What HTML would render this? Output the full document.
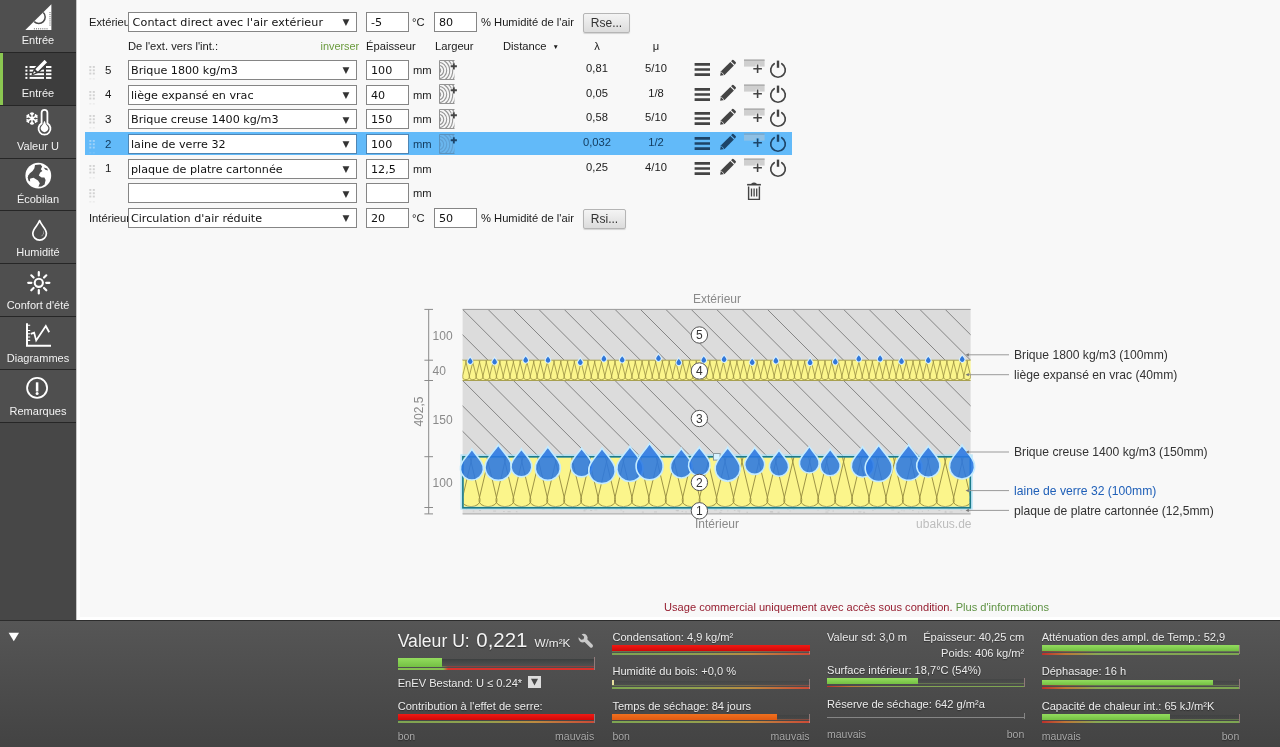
<!DOCTYPE html>
<html lang="fr">
<head>
<meta charset="utf-8">
<title>Ubakus</title>
<style>
html,body{margin:0;padding:0;}
body{width:1280px;height:747px;overflow:hidden;position:relative;background:#f8f8f8;font-family:"Liberation Sans",Arial,sans-serif;font-size:12px;color:#222;}
.abs{position:absolute;}
#side{position:absolute;left:0;top:0;width:76px;height:620px;background:#474747;}
.nav{position:absolute;left:0;width:76px;height:52px;background:#4f4f4f;border-bottom:1px solid #262626;color:#f2f2f2;font-size:11px;text-align:center;}
.nav span{position:absolute;left:0;width:76px;top:32.5px;line-height:14px;}
.nav.act{background:#3d3d3d;}
.nav.act:before{content:"";position:absolute;left:0;top:0;width:3px;height:100%;background:#8bc751;}
.nav svg{position:absolute;}
#bottom{position:absolute;left:0;top:620px;width:1280px;height:127px;background:linear-gradient(#565656,#434343);color:#f0f0f0;}
.t{position:absolute;white-space:nowrap;line-height:14px;font-size:11.2px;color:#1a1a1a;}
.sel{position:absolute;box-sizing:border-box;height:20px;background:#fff;border:1px solid #858585;font-family:"DejaVu Sans",sans-serif;font-size:11.15px;line-height:20px;padding-left:2px;white-space:nowrap;overflow:hidden;color:#111;}
.sel i{position:absolute;right:6.5px;top:-0.7px;font-style:normal;font-size:9px;color:#333;}
.inp{position:absolute;box-sizing:border-box;height:20px;background:#fff;border:1px solid #858585;font-family:"DejaVu Sans",sans-serif;font-size:11.15px;line-height:20px;padding-left:4px;color:#111;}
.btn{position:absolute;box-sizing:border-box;height:20px;border:1px solid #b5b5b5;border-radius:2px;background:linear-gradient(#f4f4f4,#dcdcdc);font-size:12px;line-height:18px;text-align:center;color:#333;box-shadow:0 1px 1px rgba(0,0,0,.15);}
.bt{position:absolute;white-space:nowrap;text-shadow:0 1px 1px rgba(0,0,0,.45);}

</style>
</head>
<body>
<svg width="0" height="0" style="position:absolute">
<defs>
<clipPath id="wclip"><rect x="0.5" y="0.5" width="15" height="19"/></clipPath>
<g id="wood">
<rect x="0.5" y="0.5" width="15" height="19" style="fill:var(--wf,#f6f6f6)"/>
<g clip-path="url(#wclip)" fill="none" style="stroke:var(--wa,#959595)" stroke-width="1.1"><circle cx="-0.6" cy="10.5" r="2.3"/><circle cx="-0.6" cy="10.5" r="5.3"/><circle cx="-0.6" cy="10.5" r="8.3"/><circle cx="-0.6" cy="10.5" r="11.3"/><circle cx="-0.6" cy="10.5" r="14.3"/><circle cx="-0.6" cy="10.5" r="17.3"/><circle cx="-0.6" cy="10.5" r="20.3"/></g>
<path d="M15.5 0.5H0.5V19.5H15.5" fill="none" style="stroke:var(--wb,#939393)" stroke-width="1"/>
<path d="M14.8 3v6.6M11.5 6.3h6.6" stroke="currentColor" stroke-width="3.6" fill="none"/>
<path d="M14.8 3.2v6.2M11.7 6.3h6.2" style="stroke:var(--ic,#444)" stroke-width="1.9" fill="none"/>
</g>
<g id="acts">
<!-- origin: x=692, y=rowtop-2 -->
<path d="M2.6 6.4h15.4M2.6 11.5h15.4M2.6 16.6h15.4" style="stroke:var(--ic,#444)" stroke-width="2.6" fill="none"/>
<!-- pencil -->
<g style="fill:var(--ic,#444)">
<path d="M28.1 17.8 L29 13.3 L38.3 4 L41.9 7.6 L32.6 16.9 Z"/>
<path d="M39.1 3.2 L40.2 2.1 Q41 1.4 41.8 2.2 L43.6 4 Q44.4 4.8 43.7 5.6 L42.7 6.8 Z"/>
</g>
<path d="M29.2 14 L32 16.8" stroke="currentColor" stroke-width="0.8" fill="none"/>
<!-- add row -->
<rect x="52" y="1.6" width="20.6" height="7" style="fill:var(--ar,#cfcfcf)"/>
<rect x="52" y="1.6" width="20.6" height="1" style="fill:var(--at,#9a9a9a)"/>
<path d="M65.6 6.2v9M61.1 10.7h9" stroke="currentColor" stroke-width="3.6" fill="none"/>
<path d="M65.6 6.4v8.6M61.3 10.7h8.6" style="stroke:var(--ic,#444)" stroke-width="1.6" fill="none"/>
<!-- power -->
<path d="M82.2 5.7 A7.3 7.3 0 1 0 89.8 5.7" style="stroke:var(--ic,#444)" stroke-width="1.7" fill="none" stroke-linecap="round"/>
<path d="M86 2.6v7.2" style="stroke:var(--ic,#444)" stroke-width="2.4" fill="none"/>
</g>
<g id="trash" fill="none" stroke="#444">
<path d="M1.1 2.7h13.8" stroke-width="1.6"/>
<path d="M5.6 2 Q8 0.6 10.4 2" stroke-width="1.4"/>
<path d="M2.6 4.6V17.4H13.4V4.6" stroke-width="1.4"/>
<path d="M5.5 6.6v8M8.1 6.6v8M10.7 6.6v8" stroke-width="1.3"/>
</g>
</defs>
</svg>

<div id="main">
<div class="abs" style="left:85px;top:132.3px;width:707px;height:22.7px;background:#62baf9"></div>
<div class="t " style="left:89px;top:15.00px;width:39px;overflow:hidden">Extérieur</div>
<div class="sel" style="left:128px;top:12.00px;width:229px"><span style="padding-left:1.6px;letter-spacing:0.1px">Contact direct avec l'air extérieur</span><i>▼</i></div>
<div class="inp" style="left:366px;top:12.00px;width:43px">-5</div>
<div class="t " style="left:412px;top:15.00px;">°C</div>
<div class="inp" style="left:434px;top:12.00px;width:43px">80</div>
<div class="t " style="left:481px;top:15.00px;">% Humidité de l'air</div>
<div class="btn" style="left:583px;top:12.5px;width:47px">Rse...</div>
<div class="t " style="left:128px;top:39.00px;">De l'ext. vers l'int.:</div>
<div class="t " style="left:320.5px;top:39.00px;color:#6a9a3c;font-size:10.9px">inverser</div>
<div class="t " style="left:366px;top:39.00px;">Épaisseur</div>
<div class="t " style="left:435px;top:39.00px;">Largeur</div>
<div class="t " style="left:503px;top:39.00px;">Distance</div>
<div class="t " style="left:552.5px;top:39.50px;font-size:6.5px">▼</div>
<div class="t " style="left:587px;top:39.00px;width:20px;text-align:center">λ</div>
<div class="t " style="left:646px;top:39.00px;width:20px;text-align:center">μ</div>
<svg class="abs" style="left:89px;top:65.90px" width="7" height="15"><g fill="#d2d2d2"><rect x="0.3" y="0" width="2" height="1.9"/><rect x="3.8" y="0" width="2" height="1.9"/><rect x="0.3" y="3.3" width="2" height="1.9"/><rect x="3.8" y="3.3" width="2" height="1.9"/><rect x="0.3" y="6.6" width="2" height="1.9"/><rect x="3.8" y="6.6" width="2" height="1.9"/></g><g fill="#d2d2d2" opacity="0.3"><rect x="0.3" y="12" width="2" height="1.6"/><rect x="3.8" y="12" width="2" height="1.6"/></g></svg>
<div class="t " style="left:105px;top:62.60px;font-size:11.5px">5</div>
<div class="sel" style="left:128px;top:60.00px;width:229px">Brique 1800 kg/m3<i>▼</i></div>
<div class="inp" style="left:366px;top:60.00px;width:43px">100</div>
<div class="t " style="left:413px;top:63.00px;">mm</div>
<svg class="abs" style="left:439px;top:59.80px;color:#f8f8f8" width="19" height="21"><use href="#wood"/></svg>
<div class="t " style="left:567px;top:61.00px;width:60px;text-align:center">0,81</div>
<div class="t " style="left:626px;top:61.00px;width:60px;text-align:center">5/10</div>
<svg class="abs" style="left:692px;top:58.00px;color:#f8f8f8" width="100" height="24"><use href="#acts"/></svg>
<svg class="abs" style="left:89px;top:90.57px" width="7" height="15"><g fill="#d2d2d2"><rect x="0.3" y="0" width="2" height="1.9"/><rect x="3.8" y="0" width="2" height="1.9"/><rect x="0.3" y="3.3" width="2" height="1.9"/><rect x="3.8" y="3.3" width="2" height="1.9"/><rect x="0.3" y="6.6" width="2" height="1.9"/><rect x="3.8" y="6.6" width="2" height="1.9"/></g><g fill="#d2d2d2" opacity="0.3"><rect x="0.3" y="12" width="2" height="1.6"/><rect x="3.8" y="12" width="2" height="1.6"/></g></svg>
<div class="t " style="left:105px;top:87.27px;font-size:11.5px">4</div>
<div class="sel" style="left:128px;top:84.67px;width:229px">liège expansé en vrac<i>▼</i></div>
<div class="inp" style="left:366px;top:84.67px;width:43px">40</div>
<div class="t " style="left:413px;top:87.67px;">mm</div>
<svg class="abs" style="left:439px;top:84.47px;color:#f8f8f8" width="19" height="21"><use href="#wood"/></svg>
<div class="t " style="left:567px;top:85.67px;width:60px;text-align:center">0,05</div>
<div class="t " style="left:626px;top:85.67px;width:60px;text-align:center">1/8</div>
<svg class="abs" style="left:692px;top:82.67px;color:#f8f8f8" width="100" height="24"><use href="#acts"/></svg>
<svg class="abs" style="left:89px;top:115.23px" width="7" height="15"><g fill="#d2d2d2"><rect x="0.3" y="0" width="2" height="1.9"/><rect x="3.8" y="0" width="2" height="1.9"/><rect x="0.3" y="3.3" width="2" height="1.9"/><rect x="3.8" y="3.3" width="2" height="1.9"/><rect x="0.3" y="6.6" width="2" height="1.9"/><rect x="3.8" y="6.6" width="2" height="1.9"/></g><g fill="#d2d2d2" opacity="0.3"><rect x="0.3" y="12" width="2" height="1.6"/><rect x="3.8" y="12" width="2" height="1.6"/></g></svg>
<div class="t " style="left:105px;top:111.93px;font-size:11.5px">3</div>
<div class="sel" style="left:128px;top:109.33px;width:229px">Brique creuse 1400 kg/m3<i>▼</i></div>
<div class="inp" style="left:366px;top:109.33px;width:43px">150</div>
<div class="t " style="left:413px;top:112.33px;">mm</div>
<svg class="abs" style="left:439px;top:109.13px;color:#f8f8f8" width="19" height="21"><use href="#wood"/></svg>
<div class="t " style="left:567px;top:110.33px;width:60px;text-align:center">0,58</div>
<div class="t " style="left:626px;top:110.33px;width:60px;text-align:center">5/10</div>
<svg class="abs" style="left:692px;top:107.33px;color:#f8f8f8" width="100" height="24"><use href="#acts"/></svg>
<svg class="abs" style="left:89px;top:139.90px" width="7" height="15"><g fill="#9fd2f8"><rect x="0.3" y="0" width="2" height="1.9"/><rect x="3.8" y="0" width="2" height="1.9"/><rect x="0.3" y="3.3" width="2" height="1.9"/><rect x="3.8" y="3.3" width="2" height="1.9"/><rect x="0.3" y="6.6" width="2" height="1.9"/><rect x="3.8" y="6.6" width="2" height="1.9"/></g><g fill="#9fd2f8" opacity="0.3"><rect x="0.3" y="12" width="2" height="1.6"/><rect x="3.8" y="12" width="2" height="1.6"/></g></svg>
<div class="t " style="left:105px;top:136.60px;font-size:11.5px;color:#123a5c">2</div>
<div class="sel" style="left:128px;top:134.00px;width:229px;border-color:#4f86b4">laine de verre 32<i>▼</i></div>
<div class="inp" style="left:366px;top:134.00px;width:43px;border-color:#4f86b4">100</div>
<div class="t " style="left:413px;top:137.00px;color:#123a5c">mm</div>
<svg class="abs" style="left:439px;top:133.80px;color:#62baf9;--wf:#6ab6ee;--wb:#5b94c0;--wa:#5f9fd2;--ic:#1d4468" width="19" height="21"><use href="#wood"/></svg>
<div class="t " style="left:567px;top:135.00px;width:60px;text-align:center;color:#123a5c">0,032</div>
<div class="t " style="left:626px;top:135.00px;width:60px;text-align:center;color:#123a5c">1/2</div>
<svg class="abs" style="left:692px;top:132.00px;color:#62baf9;--ic:#1d4468;--ar:#8fc0e4;--at:#6f9ec4" width="100" height="24"><use href="#acts"/></svg>
<svg class="abs" style="left:89px;top:164.57px" width="7" height="15"><g fill="#d2d2d2"><rect x="0.3" y="0" width="2" height="1.9"/><rect x="3.8" y="0" width="2" height="1.9"/><rect x="0.3" y="3.3" width="2" height="1.9"/><rect x="3.8" y="3.3" width="2" height="1.9"/><rect x="0.3" y="6.6" width="2" height="1.9"/><rect x="3.8" y="6.6" width="2" height="1.9"/></g><g fill="#d2d2d2" opacity="0.3"><rect x="0.3" y="12" width="2" height="1.6"/><rect x="3.8" y="12" width="2" height="1.6"/></g></svg>
<div class="t " style="left:105px;top:161.27px;font-size:11.5px">1</div>
<div class="sel" style="left:128px;top:158.67px;width:229px">plaque de platre cartonnée<i>▼</i></div>
<div class="inp" style="left:366px;top:158.67px;width:43px">12,5</div>
<div class="t " style="left:413px;top:161.67px;">mm</div>
<div class="t " style="left:567px;top:159.67px;width:60px;text-align:center">0,25</div>
<div class="t " style="left:626px;top:159.67px;width:60px;text-align:center">4/10</div>
<svg class="abs" style="left:692px;top:156.67px;color:#f8f8f8" width="100" height="24"><use href="#acts"/></svg>
<svg class="abs" style="left:89px;top:189.24px" width="7" height="15"><g fill="#d2d2d2"><rect x="0.3" y="0" width="2" height="1.9"/><rect x="3.8" y="0" width="2" height="1.9"/><rect x="0.3" y="3.3" width="2" height="1.9"/><rect x="3.8" y="3.3" width="2" height="1.9"/><rect x="0.3" y="6.6" width="2" height="1.9"/><rect x="3.8" y="6.6" width="2" height="1.9"/></g><g fill="#d2d2d2" opacity="0.3"><rect x="0.3" y="12" width="2" height="1.6"/><rect x="3.8" y="12" width="2" height="1.6"/></g></svg>
<div class="sel" style="left:128px;top:183.34px;width:229px"><i>▼</i></div>
<div class="inp" style="left:366px;top:183.34px;width:43px"></div>
<div class="t " style="left:413px;top:186.34px;">mm</div>
<svg class="abs" style="left:746px;top:182.34px" width="16" height="19"><use href="#trash"/></svg>
<div class="t " style="left:89px;top:211.00px;width:39px;overflow:hidden">Intérieur</div>
<div class="sel" style="left:128px;top:208.00px;width:229px">Circulation d'air réduite<i>▼</i></div>
<div class="inp" style="left:366px;top:208.00px;width:43px">20</div>
<div class="t " style="left:412px;top:211.00px;">°C</div>
<div class="inp" style="left:434px;top:208.00px;width:43px">50</div>
<div class="t " style="left:481px;top:211.00px;">% Humidité de l'air</div>
<div class="btn" style="left:583px;top:208.50px;width:43px">Rsi...</div>
<div class="t " style="left:664px;top:600.40px;color:#961e30;font-size:11.1px">Usage commercial uniquement avec accès sous condition. <span style="color:#5e9243">Plus d'informations</span></div>
<svg class="abs" style="left:400px;top:285px" width="860" height="255" viewBox="0 0 860 255" font-family="Liberation Sans,Arial,sans-serif" font-size="12">
<defs>
<clipPath id="cb0"><rect x="62.6" y="24.4" width="508.0" height="50.8"/></clipPath>
<clipPath id="cb2"><rect x="62.6" y="95.5" width="508.0" height="76.2"/></clipPath>
<clipPath id="cb1"><rect x="62.6" y="75.2" width="508.0" height="20.3"/></clipPath>
<clipPath id="cb3"><rect x="62.6" y="171.7" width="508.0" height="50.8"/></clipPath>
<path id="dr" d="M0 -1.68 C0.08 -1.52 0.56 -1.0 0.82 -0.57 A1 1 0 1 1 -0.82 -0.57 C-0.56 -1.0 -0.08 -1.52 0 -1.68Z"/>
</defs>
<rect x="62.6" y="24.4" width="508.0" height="50.8" fill="#dcdcdc"/>
<path d="M-13.6 24.4l50.8 50.8M11.8 24.4l50.8 50.8M37.2 24.4l50.8 50.8M62.6 24.4l50.8 50.8M88.0 24.4l50.8 50.8M113.4 24.4l50.8 50.8M138.8 24.4l50.8 50.8M164.2 24.4l50.8 50.8M189.6 24.4l50.8 50.8M215.0 24.4l50.8 50.8M240.4 24.4l50.8 50.8M265.8 24.4l50.8 50.8M291.2 24.4l50.8 50.8M316.6 24.4l50.8 50.8M342.0 24.4l50.8 50.8M367.4 24.4l50.8 50.8M392.8 24.4l50.8 50.8M418.2 24.4l50.8 50.8M443.6 24.4l50.8 50.8M469.0 24.4l50.8 50.8M494.4 24.4l50.8 50.8M519.8 24.4l50.8 50.8M545.2 24.4l50.8 50.8" stroke="#808080" stroke-width="0.95" fill="none" clip-path="url(#cb0)"/>
<rect x="62.6" y="75.2" width="508.0" height="20.3" fill="#fbf58b"/>
<path d="M58.71 75.20L62.79 91.69A3.62 2.51 0 1 1 55.64 91.69L59.72 75.20M65.48 75.20L69.56 91.69A3.62 2.51 0 1 1 62.41 91.69L66.49 75.20M72.26 75.20L76.33 91.69A3.62 2.51 0 1 1 69.19 91.69L73.26 75.20M79.03 75.20L83.11 91.69A3.62 2.51 0 1 1 75.96 91.69L80.04 75.20M85.80 75.20L89.88 91.69A3.62 2.51 0 1 1 82.73 91.69L86.81 75.20M92.58 75.20L96.65 91.69A3.62 2.51 0 1 1 89.51 91.69L93.58 75.20M99.35 75.20L103.43 91.69A3.62 2.51 0 1 1 96.28 91.69L100.36 75.20M106.12 75.20L110.20 91.69A3.62 2.51 0 1 1 103.05 91.69L107.13 75.20M112.90 75.20L116.97 91.69A3.62 2.51 0 1 1 109.83 91.69L113.90 75.20M119.67 75.20L123.75 91.69A3.62 2.51 0 1 1 116.60 91.69L120.68 75.20M126.44 75.20L130.52 91.69A3.62 2.51 0 1 1 123.37 91.69L127.45 75.20M133.22 75.20L137.29 91.69A3.62 2.51 0 1 1 130.15 91.69L134.22 75.20M139.99 75.20L144.07 91.69A3.62 2.51 0 1 1 136.92 91.69L141.00 75.20M146.76 75.20L150.84 91.69A3.62 2.51 0 1 1 143.69 91.69L147.77 75.20M153.54 75.20L157.61 91.69A3.62 2.51 0 1 1 150.47 91.69L154.54 75.20M160.31 75.20L164.39 91.69A3.62 2.51 0 1 1 157.24 91.69L161.32 75.20M167.08 75.20L171.16 91.69A3.62 2.51 0 1 1 164.01 91.69L168.09 75.20M173.86 75.20L177.93 91.69A3.62 2.51 0 1 1 170.79 91.69L174.86 75.20M180.63 75.20L184.71 91.69A3.62 2.51 0 1 1 177.56 91.69L181.64 75.20M187.40 75.20L191.48 91.69A3.62 2.51 0 1 1 184.33 91.69L188.41 75.20M194.18 75.20L198.25 91.69A3.62 2.51 0 1 1 191.11 91.69L195.18 75.20M200.95 75.20L205.03 91.69A3.62 2.51 0 1 1 197.88 91.69L201.96 75.20M207.72 75.20L211.80 91.69A3.62 2.51 0 1 1 204.65 91.69L208.73 75.20M214.50 75.20L218.57 91.69A3.62 2.51 0 1 1 211.43 91.69L215.50 75.20M221.27 75.20L225.35 91.69A3.62 2.51 0 1 1 218.20 91.69L222.28 75.20M228.04 75.20L232.12 91.69A3.62 2.51 0 1 1 224.97 91.69L229.05 75.20M234.82 75.20L238.89 91.69A3.62 2.51 0 1 1 231.75 91.69L235.82 75.20M241.59 75.20L245.67 91.69A3.62 2.51 0 1 1 238.52 91.69L242.60 75.20M248.36 75.20L252.44 91.69A3.62 2.51 0 1 1 245.29 91.69L249.37 75.20M255.14 75.20L259.21 91.69A3.62 2.51 0 1 1 252.07 91.69L256.14 75.20M261.91 75.20L265.99 91.69A3.62 2.51 0 1 1 258.84 91.69L262.92 75.20M268.68 75.20L272.76 91.69A3.62 2.51 0 1 1 265.61 91.69L269.69 75.20M275.46 75.20L279.53 91.69A3.62 2.51 0 1 1 272.39 91.69L276.46 75.20M282.23 75.20L286.31 91.69A3.62 2.51 0 1 1 279.16 91.69L283.24 75.20M289.00 75.20L293.08 91.69A3.62 2.51 0 1 1 285.93 91.69L290.01 75.20M295.78 75.20L299.85 91.69A3.62 2.51 0 1 1 292.71 91.69L296.78 75.20M302.55 75.20L306.63 91.69A3.62 2.51 0 1 1 299.48 91.69L303.56 75.20M309.32 75.20L313.40 91.69A3.62 2.51 0 1 1 306.25 91.69L310.33 75.20M316.10 75.20L320.17 91.69A3.62 2.51 0 1 1 313.03 91.69L317.10 75.20M322.87 75.20L326.95 91.69A3.62 2.51 0 1 1 319.80 91.69L323.88 75.20M329.64 75.20L333.72 91.69A3.62 2.51 0 1 1 326.57 91.69L330.65 75.20M336.42 75.20L340.49 91.69A3.62 2.51 0 1 1 333.35 91.69L337.42 75.20M343.19 75.20L347.27 91.69A3.62 2.51 0 1 1 340.12 91.69L344.20 75.20M349.96 75.20L354.04 91.69A3.62 2.51 0 1 1 346.89 91.69L350.97 75.20M356.74 75.20L360.81 91.69A3.62 2.51 0 1 1 353.67 91.69L357.74 75.20M363.51 75.20L367.59 91.69A3.62 2.51 0 1 1 360.44 91.69L364.52 75.20M370.28 75.20L374.36 91.69A3.62 2.51 0 1 1 367.21 91.69L371.29 75.20M377.06 75.20L381.13 91.69A3.62 2.51 0 1 1 373.99 91.69L378.06 75.20M383.83 75.20L387.91 91.69A3.62 2.51 0 1 1 380.76 91.69L384.84 75.20M390.60 75.20L394.68 91.69A3.62 2.51 0 1 1 387.53 91.69L391.61 75.20M397.38 75.20L401.45 91.69A3.62 2.51 0 1 1 394.31 91.69L398.38 75.20M404.15 75.20L408.23 91.69A3.62 2.51 0 1 1 401.08 91.69L405.16 75.20M410.92 75.20L415.00 91.69A3.62 2.51 0 1 1 407.85 91.69L411.93 75.20M417.70 75.20L421.77 91.69A3.62 2.51 0 1 1 414.63 91.69L418.70 75.20M424.47 75.20L428.55 91.69A3.62 2.51 0 1 1 421.40 91.69L425.48 75.20M431.24 75.20L435.32 91.69A3.62 2.51 0 1 1 428.17 91.69L432.25 75.20M438.02 75.20L442.09 91.69A3.62 2.51 0 1 1 434.95 91.69L439.02 75.20M444.79 75.20L448.87 91.69A3.62 2.51 0 1 1 441.72 91.69L445.80 75.20M451.56 75.20L455.64 91.69A3.62 2.51 0 1 1 448.49 91.69L452.57 75.20M458.34 75.20L462.41 91.69A3.62 2.51 0 1 1 455.27 91.69L459.34 75.20M465.11 75.20L469.19 91.69A3.62 2.51 0 1 1 462.04 91.69L466.12 75.20M471.88 75.20L475.96 91.69A3.62 2.51 0 1 1 468.81 91.69L472.89 75.20M478.66 75.20L482.73 91.69A3.62 2.51 0 1 1 475.59 91.69L479.66 75.20M485.43 75.20L489.51 91.69A3.62 2.51 0 1 1 482.36 91.69L486.44 75.20M492.20 75.20L496.28 91.69A3.62 2.51 0 1 1 489.13 91.69L493.21 75.20M498.98 75.20L503.05 91.69A3.62 2.51 0 1 1 495.91 91.69L499.98 75.20M505.75 75.20L509.83 91.69A3.62 2.51 0 1 1 502.68 91.69L506.76 75.20M512.52 75.20L516.60 91.69A3.62 2.51 0 1 1 509.45 91.69L513.53 75.20M519.30 75.20L523.37 91.69A3.62 2.51 0 1 1 516.23 91.69L520.30 75.20M526.07 75.20L530.15 91.69A3.62 2.51 0 1 1 523.00 91.69L527.08 75.20M532.84 75.20L536.92 91.69A3.62 2.51 0 1 1 529.77 91.69L533.85 75.20M539.62 75.20L543.69 91.69A3.62 2.51 0 1 1 536.55 91.69L540.62 75.20M546.39 75.20L550.47 91.69A3.62 2.51 0 1 1 543.32 91.69L547.40 75.20M553.16 75.20L557.24 91.69A3.62 2.51 0 1 1 550.09 91.69L554.17 75.20M559.94 75.20L564.01 91.69A3.62 2.51 0 1 1 556.87 91.69L560.94 75.20M566.71 75.20L570.79 91.69A3.62 2.51 0 1 1 563.64 91.69L567.72 75.20M573.48 75.20L577.56 91.69A3.62 2.51 0 1 1 570.41 91.69L574.49 75.20M580.26 75.20L584.33 91.69A3.62 2.51 0 1 1 577.19 91.69L581.26 75.20" stroke="#988e42" stroke-width="0.8" fill="none" clip-path="url(#cb1)"/>
<rect x="62.6" y="95.5" width="508.0" height="76.2" fill="#dcdcdc"/>
<path d="M-13.6 95.5l76.2 76.2M11.8 95.5l76.2 76.2M37.2 95.5l76.2 76.2M62.6 95.5l76.2 76.2M88.0 95.5l76.2 76.2M113.4 95.5l76.2 76.2M138.8 95.5l76.2 76.2M164.2 95.5l76.2 76.2M189.6 95.5l76.2 76.2M215.0 95.5l76.2 76.2M240.4 95.5l76.2 76.2M265.8 95.5l76.2 76.2M291.2 95.5l76.2 76.2M316.6 95.5l76.2 76.2M342.0 95.5l76.2 76.2M367.4 95.5l76.2 76.2M392.8 95.5l76.2 76.2M418.2 95.5l76.2 76.2M443.6 95.5l76.2 76.2M469.0 95.5l76.2 76.2M494.4 95.5l76.2 76.2M519.8 95.5l76.2 76.2M545.2 95.5l76.2 76.2" stroke="#808080" stroke-width="0.95" fill="none" clip-path="url(#cb2)"/>
<rect x="62.6" y="171.7" width="508.0" height="50.8" fill="#fbf58b"/>
<path d="M52.92 171.72L63.07 214.34A9.06 6.27 0 1 1 45.19 214.34L55.34 171.72M69.86 171.72L80.01 214.34A9.06 6.27 0 1 1 62.13 214.34L72.28 171.72M86.79 171.72L96.94 214.34A9.06 6.27 0 1 1 79.06 214.34L89.21 171.72M103.72 171.72L113.87 214.34A9.06 6.27 0 1 1 95.99 214.34L106.14 171.72M120.66 171.72L130.81 214.34A9.06 6.27 0 1 1 112.93 214.34L123.08 171.72M137.59 171.72L147.74 214.34A9.06 6.27 0 1 1 129.86 214.34L140.01 171.72M154.52 171.72L164.67 214.34A9.06 6.27 0 1 1 146.79 214.34L156.94 171.72M171.46 171.72L181.61 214.34A9.06 6.27 0 1 1 163.73 214.34L173.88 171.72M188.39 171.72L198.54 214.34A9.06 6.27 0 1 1 180.66 214.34L190.81 171.72M205.32 171.72L215.47 214.34A9.06 6.27 0 1 1 197.59 214.34L207.74 171.72M222.26 171.72L232.41 214.34A9.06 6.27 0 1 1 214.53 214.34L224.68 171.72M239.19 171.72L249.34 214.34A9.06 6.27 0 1 1 231.46 214.34L241.61 171.72M256.12 171.72L266.27 214.34A9.06 6.27 0 1 1 248.39 214.34L258.54 171.72M273.06 171.72L283.21 214.34A9.06 6.27 0 1 1 265.33 214.34L275.48 171.72M289.99 171.72L300.14 214.34A9.06 6.27 0 1 1 282.26 214.34L292.41 171.72M306.92 171.72L317.07 214.34A9.06 6.27 0 1 1 299.19 214.34L309.34 171.72M323.86 171.72L334.01 214.34A9.06 6.27 0 1 1 316.13 214.34L326.28 171.72M340.79 171.72L350.94 214.34A9.06 6.27 0 1 1 333.06 214.34L343.21 171.72M357.72 171.72L367.87 214.34A9.06 6.27 0 1 1 349.99 214.34L360.14 171.72M374.66 171.72L384.81 214.34A9.06 6.27 0 1 1 366.93 214.34L377.08 171.72M391.59 171.72L401.74 214.34A9.06 6.27 0 1 1 383.86 214.34L394.01 171.72M408.52 171.72L418.67 214.34A9.06 6.27 0 1 1 400.79 214.34L410.94 171.72M425.46 171.72L435.61 214.34A9.06 6.27 0 1 1 417.73 214.34L427.88 171.72M442.39 171.72L452.54 214.34A9.06 6.27 0 1 1 434.66 214.34L444.81 171.72M459.32 171.72L469.47 214.34A9.06 6.27 0 1 1 451.59 214.34L461.74 171.72M476.26 171.72L486.41 214.34A9.06 6.27 0 1 1 468.53 214.34L478.68 171.72M493.19 171.72L503.34 214.34A9.06 6.27 0 1 1 485.46 214.34L495.61 171.72M510.12 171.72L520.27 214.34A9.06 6.27 0 1 1 502.39 214.34L512.54 171.72M527.06 171.72L537.21 214.34A9.06 6.27 0 1 1 519.33 214.34L529.48 171.72M543.99 171.72L554.14 214.34A9.06 6.27 0 1 1 536.26 214.34L546.41 171.72M560.92 171.72L571.07 214.34A9.06 6.27 0 1 1 553.19 214.34L563.34 171.72M577.86 171.72L588.01 214.34A9.06 6.27 0 1 1 570.13 214.34L580.28 171.72" stroke="#988e42" stroke-width="0.95" fill="none" clip-path="url(#cb3)"/>
<path d="M62.6 75.2H570.6M62.6 95.5H570.6" stroke="#a8a050" stroke-width="1" fill="none"/>
<path d="M62.6 24.4H570.6" stroke="#9a9a9a" stroke-width="1" fill="none"/>
<rect x="62.6" y="222.5" width="508.0" height="6.4" fill="#dedede"/>
<path d="M183.5 225.8h2M527.9 225.6h1M370.2 227.1h3M194.4 224.8h3M337.4 225.9h3M387.2 224.5h1.5M503.6 225.8h1M403.7 224.2h1M215.6 224.1h2M302.8 226.4h3M425.4 227.1h3M432.5 226.0h1.5M509.1 224.3h1.5M314.0 224.9h3M458.3 226.9h3M320.3 225.3h2M333.9 225.4h1.5M521.9 226.3h1M497.7 227.3h1.5M417.5 225.1h1M425.2 224.7h2M207.4 224.2h3M107.6 226.7h3M518.3 224.1h3M453.1 226.9h1M369.9 226.6h3M427.6 225.1h2M319.4 227.4h2M66.3 224.4h1M544.6 227.3h2M372.7 224.5h1M560.4 225.2h2M549.6 227.0h3M254.0 226.9h3M389.7 226.0h1M377.6 227.2h2M281.6 226.4h1.5M538.3 225.5h2M327.3 225.9h1M463.1 227.3h2M72.8 226.1h1.5M93.1 226.1h3M241.9 227.1h2M437.5 224.1h1M547.7 224.1h2M190.2 225.5h2M152.7 224.6h2M491.3 224.9h3M115.9 226.7h1.5M220.1 224.8h2M183.9 224.6h3M392.6 224.3h2M544.8 226.3h1.5M285.3 226.9h1.5M103.2 226.5h1.5M512.1 225.5h1.5M462.4 224.1h1.5M222.7 226.8h1.5M501.4 225.2h1M472.2 225.2h1.5M276.6 225.8h2M298.7 226.1h2M275.8 225.4h3M141.8 224.0h3M346.5 227.3h1.5M79.0 225.5h2M338.9 227.0h1M498.5 227.3h1M474.2 224.2h1.5M518.1 227.0h1" stroke="#c4c4c4" stroke-width="0.8" fill="none"/>
<path d="M62.6 228.9H570.6" stroke="#b0b0b0" stroke-width="1.4" fill="none"/>
<rect x="62.0" y="170.9" width="509.2" height="52.2" fill="none" stroke="#a6e0f8" stroke-width="3.2" opacity="0.7"/>
<rect x="62.9" y="171.8" width="507.4" height="51.0" fill="none" stroke="#1b7a88" stroke-width="1.6"/>
<rect x="313.5" y="168.5" width="6.6" height="6.6" fill="#d8f2ff" stroke="#8a9aa0" stroke-width="1"/>
<use href="#dr" transform="translate(70.2 76.6) scale(2.3)" fill="#3277d8" stroke="#d6efff" stroke-width="0.87" paint-order="stroke"/>
<use href="#dr" transform="translate(94.6 77.0) scale(2.3)" fill="#3277d8" stroke="#d6efff" stroke-width="0.87" paint-order="stroke"/>
<use href="#dr" transform="translate(125.7 75.4) scale(2.3)" fill="#3277d8" stroke="#d6efff" stroke-width="0.87" paint-order="stroke"/>
<use href="#dr" transform="translate(148.0 75.4) scale(2.3)" fill="#3277d8" stroke="#d6efff" stroke-width="0.87" paint-order="stroke"/>
<use href="#dr" transform="translate(180.3 77.5) scale(2.3)" fill="#3277d8" stroke="#d6efff" stroke-width="0.87" paint-order="stroke"/>
<use href="#dr" transform="translate(203.9 74.0) scale(2.3)" fill="#3277d8" stroke="#d6efff" stroke-width="0.87" paint-order="stroke"/>
<use href="#dr" transform="translate(222.2 75.0) scale(2.3)" fill="#3277d8" stroke="#d6efff" stroke-width="0.87" paint-order="stroke"/>
<use href="#dr" transform="translate(258.5 73.6) scale(2.3)" fill="#3277d8" stroke="#d6efff" stroke-width="0.87" paint-order="stroke"/>
<use href="#dr" transform="translate(278.8 77.7) scale(2.3)" fill="#3277d8" stroke="#d6efff" stroke-width="0.87" paint-order="stroke"/>
<use href="#dr" transform="translate(303.8 75.4) scale(2.3)" fill="#3277d8" stroke="#d6efff" stroke-width="0.87" paint-order="stroke"/>
<use href="#dr" transform="translate(324.1 74.6) scale(2.3)" fill="#3277d8" stroke="#d6efff" stroke-width="0.87" paint-order="stroke"/>
<use href="#dr" transform="translate(352.2 77.5) scale(2.3)" fill="#3277d8" stroke="#d6efff" stroke-width="0.87" paint-order="stroke"/>
<use href="#dr" transform="translate(375.9 76.0) scale(2.3)" fill="#3277d8" stroke="#d6efff" stroke-width="0.87" paint-order="stroke"/>
<use href="#dr" transform="translate(410.1 77.7) scale(2.3)" fill="#3277d8" stroke="#d6efff" stroke-width="0.87" paint-order="stroke"/>
<use href="#dr" transform="translate(435.3 77.0) scale(2.3)" fill="#3277d8" stroke="#d6efff" stroke-width="0.87" paint-order="stroke"/>
<use href="#dr" transform="translate(458.8 74.0) scale(2.3)" fill="#3277d8" stroke="#d6efff" stroke-width="0.87" paint-order="stroke"/>
<use href="#dr" transform="translate(480.1 74.0) scale(2.3)" fill="#3277d8" stroke="#d6efff" stroke-width="0.87" paint-order="stroke"/>
<use href="#dr" transform="translate(501.5 76.6) scale(2.3)" fill="#3277d8" stroke="#d6efff" stroke-width="0.87" paint-order="stroke"/>
<use href="#dr" transform="translate(528.3 75.6) scale(2.3)" fill="#3277d8" stroke="#d6efff" stroke-width="0.87" paint-order="stroke"/>
<use href="#dr" transform="translate(562.2 74.6) scale(2.3)" fill="#3277d8" stroke="#d6efff" stroke-width="0.87" paint-order="stroke"/>
<use href="#dr" transform="translate(71.9 183.5) scale(11.53)" fill="#2a77e2" fill-opacity="0.88" stroke="#c4ebff" stroke-width="0.139"/>
<use href="#dr" transform="translate(98.3 182.1) scale(13.25)" fill="#2a77e2" fill-opacity="0.88" stroke="#c4ebff" stroke-width="0.121"/>
<use href="#dr" transform="translate(121.4 181.4) scale(10.45)" fill="#2a77e2" fill-opacity="0.88" stroke="#c4ebff" stroke-width="0.153"/>
<use href="#dr" transform="translate(147.8 182.8) scale(12.54)" fill="#2a77e2" fill-opacity="0.88" stroke="#c4ebff" stroke-width="0.128"/>
<use href="#dr" transform="translate(181.6 181.1) scale(10.75)" fill="#2a77e2" fill-opacity="0.88" stroke="#c4ebff" stroke-width="0.149"/>
<use href="#dr" transform="translate(202.0 185.3) scale(13.25)" fill="#2a77e2" fill-opacity="0.88" stroke="#c4ebff" stroke-width="0.121"/>
<use href="#dr" transform="translate(229.9 183.3) scale(13.10)" fill="#2a77e2" fill-opacity="0.88" stroke="#c4ebff" stroke-width="0.122"/>
<use href="#dr" transform="translate(249.6 181.2) scale(13.54)" fill="#2a77e2" fill-opacity="0.88" stroke="#c4ebff" stroke-width="0.118"/>
<use href="#dr" transform="translate(281.3 181.9) scale(11.01)" fill="#2a77e2" fill-opacity="0.88" stroke="#c4ebff" stroke-width="0.145"/>
<use href="#dr" transform="translate(299.3 180.1) scale(10.75)" fill="#2a77e2" fill-opacity="0.88" stroke="#c4ebff" stroke-width="0.149"/>
<use href="#dr" transform="translate(327.7 183.5) scale(12.57)" fill="#2a77e2" fill-opacity="0.88" stroke="#c4ebff" stroke-width="0.127"/>
<use href="#dr" transform="translate(354.7 179.4) scale(9.96)" fill="#2a77e2" fill-opacity="0.88" stroke="#c4ebff" stroke-width="0.161"/>
<use href="#dr" transform="translate(379.0 181.5) scale(9.70)" fill="#2a77e2" fill-opacity="0.88" stroke="#c4ebff" stroke-width="0.165"/>
<use href="#dr" transform="translate(409.3 178.1) scale(9.89)" fill="#2a77e2" fill-opacity="0.88" stroke="#c4ebff" stroke-width="0.162"/>
<use href="#dr" transform="translate(430.2 180.8) scale(9.96)" fill="#2a77e2" fill-opacity="0.88" stroke="#c4ebff" stroke-width="0.161"/>
<use href="#dr" transform="translate(462.5 180.9) scale(11.27)" fill="#2a77e2" fill-opacity="0.88" stroke="#c4ebff" stroke-width="0.142"/>
<use href="#dr" transform="translate(478.7 182.9) scale(13.54)" fill="#2a77e2" fill-opacity="0.88" stroke="#c4ebff" stroke-width="0.118"/>
<use href="#dr" transform="translate(508.6 182.0) scale(13.32)" fill="#2a77e2" fill-opacity="0.88" stroke="#c4ebff" stroke-width="0.120"/>
<use href="#dr" transform="translate(528.3 180.6) scale(11.64)" fill="#2a77e2" fill-opacity="0.88" stroke="#c4ebff" stroke-width="0.137"/>
<use href="#dr" transform="translate(562.0 181.3) scale(12.61)" fill="#2a77e2" fill-opacity="0.88" stroke="#c4ebff" stroke-width="0.127"/>
<path d="M28.7 24.4V228.9M24.4 24.4h8.6M24.4 75.2h8.6M24.4 95.5h8.6M24.4 171.7h8.6M24.4 222.5h8.6M24.4 228.9h8.6" stroke="#8a8a8a" stroke-width="1" fill="none"/>
<text x="32.6" y="54.7" fill="#8a8a8a">100</text>
<text x="32.6" y="90.3" fill="#8a8a8a">40</text>
<text x="32.6" y="138.5" fill="#8a8a8a">150</text>
<text x="32.6" y="202.0" fill="#8a8a8a">100</text>
<text transform="translate(23.0 126.6) rotate(-90)" text-anchor="middle" fill="#8a8a8a">402,5</text>
<text x="317" y="18.3" text-anchor="middle" fill="#8a8a8a">Extérieur</text>
<text x="317" y="243.3" text-anchor="middle" fill="#8a8a8a">Intérieur</text>
<text x="571.5" y="243.3" text-anchor="end" fill="#bdbdbd">ubakus.de</text>
<circle cx="299.4" cy="50.0" r="8.2" fill="#fff" stroke="#555" stroke-width="1"/>
<text x="299.4" y="54.2" text-anchor="middle" fill="#333" font-size="12">5</text>
<circle cx="299.4" cy="86.0" r="8.2" fill="#fff" stroke="#555" stroke-width="1"/>
<text x="299.4" y="90.2" text-anchor="middle" fill="#333" font-size="12">4</text>
<circle cx="299.4" cy="133.5" r="8.2" fill="#fff" stroke="#555" stroke-width="1"/>
<text x="299.4" y="137.7" text-anchor="middle" fill="#333" font-size="12">3</text>
<circle cx="299.4" cy="197.4" r="8.2" fill="#fff" stroke="#555" stroke-width="1"/>
<text x="299.4" y="201.6" text-anchor="middle" fill="#333" font-size="12">2</text>
<circle cx="299.4" cy="225.8" r="8.2" fill="#fff" stroke="#555" stroke-width="1"/>
<text x="299.4" y="230.0" text-anchor="middle" fill="#333" font-size="12">1</text>
<path d="M567 69.8H609" stroke="#9a9a9a" stroke-width="1" fill="none"/>
<path d="M565.6 69.8l3.2 -1.6v3.2z" fill="#777"/>
<text x="614" y="74.0" fill="#333" font-size="12.15">Brique 1800 kg/m3 (100mm)</text>
<path d="M567 89.7H609" stroke="#9a9a9a" stroke-width="1" fill="none"/>
<path d="M565.6 89.7l3.2 -1.6v3.2z" fill="#777"/>
<text x="614" y="93.9" fill="#333" font-size="12.15">liège expansé en vrac (40mm)</text>
<path d="M567 167.0H609" stroke="#9a9a9a" stroke-width="1" fill="none"/>
<path d="M565.6 167.0l3.2 -1.6v3.2z" fill="#777"/>
<text x="614" y="171.2" fill="#333" font-size="12.15">Brique creuse 1400 kg/m3 (150mm)</text>
<path d="M567 205.6H609" stroke="#9a9a9a" stroke-width="1" fill="none"/>
<path d="M565.6 205.6l3.2 -1.6v3.2z" fill="#777"/>
<text x="614" y="209.8" fill="#2060b8" font-size="12.15">laine de verre 32 (100mm)</text>
<path d="M567 225.4H609" stroke="#9a9a9a" stroke-width="1" fill="none"/>
<path d="M565.6 225.4l3.2 -1.6v3.2z" fill="#777"/>
<text x="614" y="229.6" fill="#333" font-size="12.15">plaque de platre cartonnée (12,5mm)</text>
</svg>
</div>
<div class="abs" style="left:77px;top:0;width:2.5px;height:620px;background:#fff"></div><div class="abs" style="left:77px;top:617px;width:1203px;height:3px;background:#fff"></div><div class="abs" style="left:76px;top:0;width:1px;height:620px;background:#c8c8c8"></div>
<div id="side">
<div class="nav" style="top:0px;height:52px"><svg width="77" height="52" style="left:0;top:0px"><path d="M51.4 4.2V29.9H25.3Z" fill="#fff"/><path d="M34.2 21.6 A6.4 6.4 0 0 0 43.3 12.5" fill="none" stroke="#4a4a4a" stroke-width="1.5"/><path d="M49.4 12.6h1.2M49.4 14.6h1.2M49.4 16.7h1.2M49.4 18.8h1.2M49.4 20.9h1.2M49.4 23.0h1.2M49.4 25.1h1.2M34.4 28.2v1.2M36.5 28.2v1.2M38.6 28.2v1.2M40.7 28.2v1.2M42.8 28.2v1.2M44.9 28.2v1.2M47.0 28.2v1.2" stroke="#666" stroke-width="0.9" fill="none"/></svg><span style="top:32.8px">Entrée</span></div>
<div class="nav act" style="top:53px;height:52px"><svg width="77" height="52" style="left:0;top:0px"><g fill="#fff"><rect x="25.4" y="13.0" width="2" height="2"/><rect x="29.6" y="13.0" width="14.4" height="2"/><rect x="46" y="13.0" width="5.4" height="2"/><rect x="25.4" y="16.6" width="2" height="2"/><rect x="29.6" y="16.6" width="14.4" height="2"/><rect x="46" y="16.6" width="5.4" height="2"/><rect x="25.4" y="20.2" width="2" height="2"/><rect x="29.6" y="20.2" width="14.4" height="2"/><rect x="46" y="20.2" width="5.4" height="2"/><rect x="25.4" y="23.9" width="2" height="2"/><rect x="29.6" y="23.9" width="14.4" height="2"/><rect x="46" y="23.9" width="5.4" height="2"/></g><path d="M32.4 21.4 L35.2 15.2 L44.6 5.8 L48.2 9.4 L38.8 18.8 Z" fill="#fff" stroke="#3d3d3d" stroke-width="1.6" stroke-linejoin="round"/><path d="M32.6 21.2 L35 16 L38 19 Z" fill="#3d3d3d"/><path d="M33 20.8 L34.2 18.2 L35.8 19.8Z" fill="#fff"/></svg><span style="top:32.8px">Entrée</span></div>
<div class="nav" style="top:106px;height:52px"><svg width="77" height="52" style="left:0;top:0px"><path d="M32 12.5L37.46 15.65M35.29 14.40L37.55 13.58M35.29 14.40L35.71 16.76M32 12.5L32.00 18.80M32.00 16.30L33.84 17.84M32.00 16.30L30.16 17.84M32 12.5L26.54 15.65M28.71 14.40L28.29 16.76M28.71 14.40L26.45 13.58M32 12.5L26.54 9.35M28.71 10.60L26.45 11.42M28.71 10.60L28.29 8.24M32 12.5L32.00 6.20M32.00 8.70L30.16 7.16M32.00 8.70L33.84 7.16M32 12.5L37.46 9.35M35.29 10.60L35.71 8.24M35.29 10.60L37.55 11.42" stroke="#fff" stroke-width="1.5" fill="none"/><path d="M41.6 17.4 V6.8 A2.9 2.9 0 0 1 47.4 6.8 V17.4 A6 6 0 1 1 41.6 17.4 Z" fill="none" stroke="#fff" stroke-width="1.8"/><path d="M44 15.5 Q44.5 14.5 45 15.5 Q45.4 18 47.4 20 A3.7 3.7 0 1 1 41.6 20 Q43.6 18 44 15.5Z" fill="#fff"/></svg><span style="top:32.8px">Valeur U</span></div>
<div class="nav" style="top:159px;height:51px"><svg width="77" height="52" style="left:0;top:0px"><circle cx="38.3" cy="16.7" r="12.9" fill="#fff"/><g fill="#4f4f4f"><path d="M35 6 L40.5 5.4 L42.2 7.6 L40.8 10.2 L42.4 12 L40.2 13.6 L38.8 16.4 L41.6 18.6 L44.4 18.4 L45.6 21 L44.6 25.6 L41.4 27.4 L38.4 27.8 L39.8 24.2 L38 21.6 L33.6 18.8 L30.4 19.6 L29.2 22.4 L27.6 18.4 L29.6 14.4 L32.6 12 L34.4 9.2 Z"/><path d="M43.6 8.6 L47.2 9.6 L48 11.6 L45.4 10.8 Z"/><path d="M28 15.4 L29.6 17.8 L30.2 22.6 L28.6 21.6 Z"/></g></svg><span style="top:32.8px">Écobilan</span></div>
<div class="nav" style="top:211px;height:52px"><svg width="77" height="52" style="left:0;top:1px"><path d="M39.6 8.6 C41.2 13.4 46.4 16.6 46.4 21.4 A6.8 6.8 0 0 1 32.8 21.4 C32.8 16.6 38 13.4 39.6 8.6Z" fill="none" stroke="#fff" stroke-width="1.7" stroke-linejoin="round"/><path d="M43 18.6 Q44.4 22.4 40.6 24.6 Q43 24 43.8 21.6 Q44 19.8 43 18.6Z" fill="#ddd"/></svg><span style="top:33.8px">Humidité</span></div>
<div class="nav" style="top:264px;height:52px"><svg width="77" height="52" style="left:0;top:1px"><circle cx="38.8" cy="17.8" r="4.1" fill="none" stroke="#fff" stroke-width="2.1"/><path d="M46.20 17.80L49.40 17.80M44.03 23.03L46.30 25.30M38.80 25.20L38.80 28.40M33.57 23.03L31.30 25.30M31.40 17.80L28.20 17.80M33.57 12.57L31.30 10.30M38.80 10.40L38.80 7.20M44.03 12.57L46.30 10.30" stroke="#fff" stroke-width="2.2" stroke-linecap="round" fill="none"/></svg><span style="top:33.8px">Confort d'été</span></div>
<div class="nav" style="top:317px;height:52px"><svg width="77" height="52" style="left:0;top:1px"><path d="M27 5.2V27.8H51" fill="none" stroke="#fff" stroke-width="2"/><path d="M28 7.3h2.2M28 12.5h2.2M28 15.8h2.2M28 19.0h2.2M28 22.4h2.2" stroke="#fff" stroke-width="1.1" fill="none"/><path d="M30.8 15.8 L34.1 14.6 L36.2 22.4 L45.8 8 L49.2 14.3" fill="none" stroke="#fff" stroke-width="1.8" stroke-linejoin="miter"/></svg><span style="top:33.8px">Diagrammes</span></div>
<div class="nav" style="top:370px;height:52px"><svg width="77" height="52" style="left:0;top:1px"><circle cx="37.1" cy="16.9" r="10" fill="none" stroke="#fff" stroke-width="1.8"/><path d="M37.1 11.3v9.2" stroke="#fff" stroke-width="2.5" fill="none"/><circle cx="37.1" cy="22.4" r="1.5" fill="#fff"/></svg><span style="top:33.8px">Remarques</span></div>
</div>
<div id="bottom">
<div class="abs" style="left:0;top:0;width:1280px;height:1px;background:#2c2c2c"></div>
<svg class="abs" style="left:7.6px;top:12.2px" width="12" height="10"><path d="M0.6 0.8H11L5.8 9.2Z" fill="#fff"/></svg>
<div class="bt" style="left:397.7px;top:9.98px;font-size:17.6px;line-height:23px;color:#f4f4f4;">Valeur U:</div>
<div class="bt" style="left:476.3px;top:7.06px;font-size:20.4px;line-height:27px;color:#f4f4f4;">0,221</div>
<div class="bt" style="left:534.4px;top:15.90px;font-size:11.8px;line-height:15px;color:#f0f0f0;">W/m²K</div>
<svg class="abs" style="left:577px;top:12.5px" width="17" height="17" viewBox="0 0 17 17"><path d="M1.6 4.2 L4.2 6.8 L6.6 6.2 L7.2 3.8 L4.6 1.2 Q7.6 0.2 9.6 2.2 Q11.2 4 10.4 6.4 L15.6 11.8 Q16.6 13 15.4 14.2 Q14.2 15.4 13 14.2 L7.6 9 Q5.2 10 3 8.4 Q0.8 6.6 1.6 4.2Z" fill="#c9c9c9"/></svg>
<div class="abs" style="left:397.7px;top:38.7px;width:196.5px;height:9.5px;background:linear-gradient(rgba(30,40,40,0.4),rgba(30,40,40,0) 70%)"></div><div class="abs" style="left:397.7px;top:46.0px;width:196.5px;height:1px;background:linear-gradient(90deg,#86c052 0%,#86c052 23%,#d8322c 25.5%,#d8322c 100%);opacity:.45"></div><div class="abs" style="left:397.7px;top:48.2px;width:196.5px;height:1.8px;background:linear-gradient(90deg,#86c052 0%,#86c052 23%,#d8322c 25.5%,#d8322c 100%)"></div><div class="abs" style="left:593.6px;top:37.2px;width:1px;height:12.6px;background:rgba(200,160,160,.55)"></div><div class="abs" style="left:397.7px;top:37.7px;width:43.9px;height:9.5px;background:linear-gradient(#93dc5e,#74c043)"></div>
<div class="bt" style="left:397.7px;top:55.73px;font-size:11.1px;line-height:14px;color:#ececec;">EnEV Bestand: U ≤ 0.24*</div>
<div class="abs" style="left:528px;top:55.8px;width:13px;height:11.8px;background:#dcdcdc"></div><svg class="abs" style="left:528px;top:55.8px" width="13" height="12"><path d="M3 2.8H10L6.5 9.4Z" fill="#484848"/></svg>
<div class="bt" style="left:397.7px;top:78.63px;font-size:11.1px;line-height:14px;color:#ececec;">Contribution à l'effet de serre:</div>
<div class="abs" style="left:397.7px;top:95.0px;width:196.5px;height:5.6px;background:linear-gradient(rgba(30,40,40,0.18),rgba(30,40,40,0) 70%)"></div><div class="abs" style="left:397.7px;top:98.8px;width:196.5px;height:1px;background:linear-gradient(90deg,#7da552 0%,#93a04e 45%,#bd8a40 70%,#cc4a36 100%);opacity:.45"></div><div class="abs" style="left:397.7px;top:101.0px;width:196.5px;height:1.8px;background:linear-gradient(90deg,#7da552 0%,#93a04e 45%,#bd8a40 70%,#cc4a36 100%)"></div><div class="abs" style="left:593.6px;top:93.5px;width:1px;height:9.1px;background:rgba(200,160,160,.55)"></div><div class="abs" style="left:397.7px;top:94.0px;width:196.5px;height:5.6px;background:linear-gradient(#f01a14,#d00808)"></div>
<div class="bt" style="left:397.7px;top:108.63px;font-size:10.5px;line-height:14px;color:#a8a8a8;">bon</div>
<div class="bt" style="right:685.8px;top:108.63px;font-size:10.5px;line-height:14px;color:#a8a8a8;">mauvais</div>
<div class="bt" style="left:612.4px;top:10.33px;font-size:11.1px;line-height:14px;color:#ececec;">Condensation: 4,9 kg/m²</div>
<div class="abs" style="left:612.4px;top:26.4px;width:197.2px;height:5.8px;background:linear-gradient(rgba(30,40,40,0.18),rgba(30,40,40,0) 70%)"></div><div class="abs" style="left:612.4px;top:30.6px;width:197.2px;height:1px;background:linear-gradient(90deg,#7da552 0%,#93a04e 45%,#bd8a40 70%,#cc4a36 100%);opacity:.45"></div><div class="abs" style="left:612.4px;top:32.8px;width:197.2px;height:1.8px;background:linear-gradient(90deg,#7da552 0%,#93a04e 45%,#bd8a40 70%,#cc4a36 100%)"></div><div class="abs" style="left:809.0px;top:24.9px;width:1px;height:9.5px;background:rgba(200,160,160,.55)"></div><div class="abs" style="left:612.4px;top:25.4px;width:197.2px;height:5.8px;background:linear-gradient(#f01a14,#d00808)"></div>
<div class="bt" style="left:612.4px;top:44.33px;font-size:11.1px;line-height:14px;color:#ececec;">Humidité du bois: +0,0 %</div>
<div class="abs" style="left:612.4px;top:60.8px;width:197.2px;height:5.6px;background:linear-gradient(rgba(30,40,40,0.18),rgba(30,40,40,0) 70%)"></div><div class="abs" style="left:612.4px;top:65.0px;width:197.2px;height:1px;background:linear-gradient(90deg,#7da552 0%,#93a04e 45%,#bd8a40 70%,#cc4a36 100%);opacity:.45"></div><div class="abs" style="left:612.4px;top:67.2px;width:197.2px;height:1.8px;background:linear-gradient(90deg,#7da552 0%,#93a04e 45%,#bd8a40 70%,#cc4a36 100%)"></div><div class="abs" style="left:809.0px;top:59.3px;width:1px;height:9.5px;background:rgba(200,160,160,.55)"></div>
<div class="abs" style="left:612.4px;top:59.8px;width:1.2px;height:5.4px;background:#e8e0a0"></div>
<div class="bt" style="left:612.4px;top:78.73px;font-size:11.1px;line-height:14px;color:#ececec;">Temps de séchage: 84 jours</div>
<div class="abs" style="left:612.4px;top:95.2px;width:197.2px;height:5.4px;background:linear-gradient(rgba(30,40,40,0.18),rgba(30,40,40,0) 70%)"></div><div class="abs" style="left:612.4px;top:99.0px;width:197.2px;height:1px;background:linear-gradient(90deg,#7da552 0%,#93a04e 45%,#bd8a40 70%,#cc4a36 100%);opacity:.45"></div><div class="abs" style="left:612.4px;top:101.2px;width:197.2px;height:1.8px;background:linear-gradient(90deg,#7da552 0%,#93a04e 45%,#bd8a40 70%,#cc4a36 100%)"></div><div class="abs" style="left:809.0px;top:93.7px;width:1px;height:9.1px;background:rgba(200,160,160,.55)"></div><div class="abs" style="left:612.4px;top:94.2px;width:164.6px;height:5.4px;background:linear-gradient(#f0701e,#e05a12)"></div>
<div class="bt" style="left:612.4px;top:108.53px;font-size:10.5px;line-height:14px;color:#a8a8a8;">bon</div>
<div class="bt" style="right:470.4px;top:108.53px;font-size:10.5px;line-height:14px;color:#a8a8a8;">mauvais</div>
<div class="bt" style="left:827.0px;top:10.33px;font-size:11.1px;line-height:14px;color:#ececec;">Valeur sd: 3,0 m</div>
<div class="bt" style="right:255.7px;top:10.33px;font-size:11.1px;line-height:14px;color:#ececec;">Épaisseur: 40,25 cm</div>
<div class="bt" style="right:255.7px;top:25.73px;font-size:11.1px;line-height:14px;color:#ececec;">Poids: 406 kg/m²</div>
<div class="bt" style="left:827.0px;top:42.63px;font-size:11.1px;line-height:14px;color:#ececec;">Surface intérieur: 18,7°C (54%)</div>
<div class="abs" style="left:827.0px;top:59.4px;width:197.3px;height:5.4px;background:linear-gradient(rgba(30,40,40,0.18),rgba(30,40,40,0) 70%)"></div><div class="abs" style="left:827.0px;top:63.4px;width:197.3px;height:1px;background:linear-gradient(90deg,#bd302c 0%,#bd7636 12%,#88a854 28%,#7da552 100%);opacity:.45"></div><div class="abs" style="left:827.0px;top:65.6px;width:197.3px;height:1.8px;background:linear-gradient(90deg,#bd302c 0%,#bd7636 12%,#88a854 28%,#7da552 100%)"></div><div class="abs" style="left:1023.7px;top:57.9px;width:1px;height:9.3px;background:rgba(200,160,160,.55)"></div><div class="abs" style="left:827.0px;top:58.4px;width:91.0px;height:5.4px;background:linear-gradient(#93dc5e,#74c043)"></div>
<div class="bt" style="left:827.0px;top:76.63px;font-size:11.1px;line-height:14px;color:#ececec;">Réserve de séchage: 642 g/m²a</div>
<div class="abs" style="left:827px;top:97.2px;width:197.3px;height:1.2px;background:#858585"></div><div class="abs" style="left:1023.5px;top:92.5px;width:1px;height:6px;background:#858585"></div>
<div class="bt" style="left:827.0px;top:106.73px;font-size:10.5px;line-height:14px;color:#a8a8a8;">mauvais</div>
<div class="bt" style="right:255.7px;top:106.73px;font-size:10.5px;line-height:14px;color:#a8a8a8;">bon</div>
<div class="bt" style="left:1041.7px;top:10.33px;font-size:11.1px;line-height:14px;color:#ececec;">Atténuation des ampl. de Temp.: 52,9</div>
<div class="abs" style="left:1041.7px;top:26.4px;width:197.6px;height:5.8px;background:linear-gradient(rgba(30,40,40,0.18),rgba(30,40,40,0) 70%)"></div><div class="abs" style="left:1041.7px;top:30.6px;width:197.6px;height:1px;background:linear-gradient(90deg,#bd302c 0%,#bd7636 12%,#88a854 28%,#7da552 100%);opacity:.45"></div><div class="abs" style="left:1041.7px;top:32.8px;width:197.6px;height:1.8px;background:linear-gradient(90deg,#bd302c 0%,#bd7636 12%,#88a854 28%,#7da552 100%)"></div><div class="abs" style="left:1238.7px;top:24.9px;width:1px;height:9.5px;background:rgba(200,160,160,.55)"></div><div class="abs" style="left:1041.7px;top:25.4px;width:197.6px;height:5.8px;background:linear-gradient(#93dc5e,#74c043)"></div>
<div class="bt" style="left:1041.7px;top:44.33px;font-size:11.1px;line-height:14px;color:#ececec;">Déphasage: 16 h</div>
<div class="abs" style="left:1041.7px;top:60.8px;width:197.6px;height:5.6px;background:linear-gradient(rgba(30,40,40,0.18),rgba(30,40,40,0) 70%)"></div><div class="abs" style="left:1041.7px;top:65.0px;width:197.6px;height:1px;background:linear-gradient(90deg,#bd302c 0%,#bd7636 12%,#88a854 28%,#7da552 100%);opacity:.45"></div><div class="abs" style="left:1041.7px;top:67.2px;width:197.6px;height:1.8px;background:linear-gradient(90deg,#bd302c 0%,#bd7636 12%,#88a854 28%,#7da552 100%)"></div><div class="abs" style="left:1238.7px;top:59.3px;width:1px;height:9.5px;background:rgba(200,160,160,.55)"></div><div class="abs" style="left:1041.7px;top:59.8px;width:171.3px;height:5.6px;background:linear-gradient(#93dc5e,#74c043)"></div>
<div class="bt" style="left:1041.7px;top:78.73px;font-size:11.1px;line-height:14px;color:#ececec;">Capacité de chaleur int.: 65 kJ/m²K</div>
<div class="abs" style="left:1041.7px;top:95.2px;width:197.6px;height:5.4px;background:linear-gradient(rgba(30,40,40,0.18),rgba(30,40,40,0) 70%)"></div><div class="abs" style="left:1041.7px;top:99.0px;width:197.6px;height:1px;background:linear-gradient(90deg,#bd302c 0%,#bd7636 12%,#88a854 28%,#7da552 100%);opacity:.45"></div><div class="abs" style="left:1041.7px;top:101.2px;width:197.6px;height:1.8px;background:linear-gradient(90deg,#bd302c 0%,#bd7636 12%,#88a854 28%,#7da552 100%)"></div><div class="abs" style="left:1238.7px;top:93.7px;width:1px;height:9.1px;background:rgba(200,160,160,.55)"></div><div class="abs" style="left:1041.7px;top:94.2px;width:128.3px;height:5.4px;background:linear-gradient(#93dc5e,#74c043)"></div>
<div class="bt" style="left:1041.7px;top:108.53px;font-size:10.5px;line-height:14px;color:#a8a8a8;">mauvais</div>
<div class="bt" style="right:40.7px;top:108.53px;font-size:10.5px;line-height:14px;color:#a8a8a8;">bon</div>
</div>
</body>
</html>
